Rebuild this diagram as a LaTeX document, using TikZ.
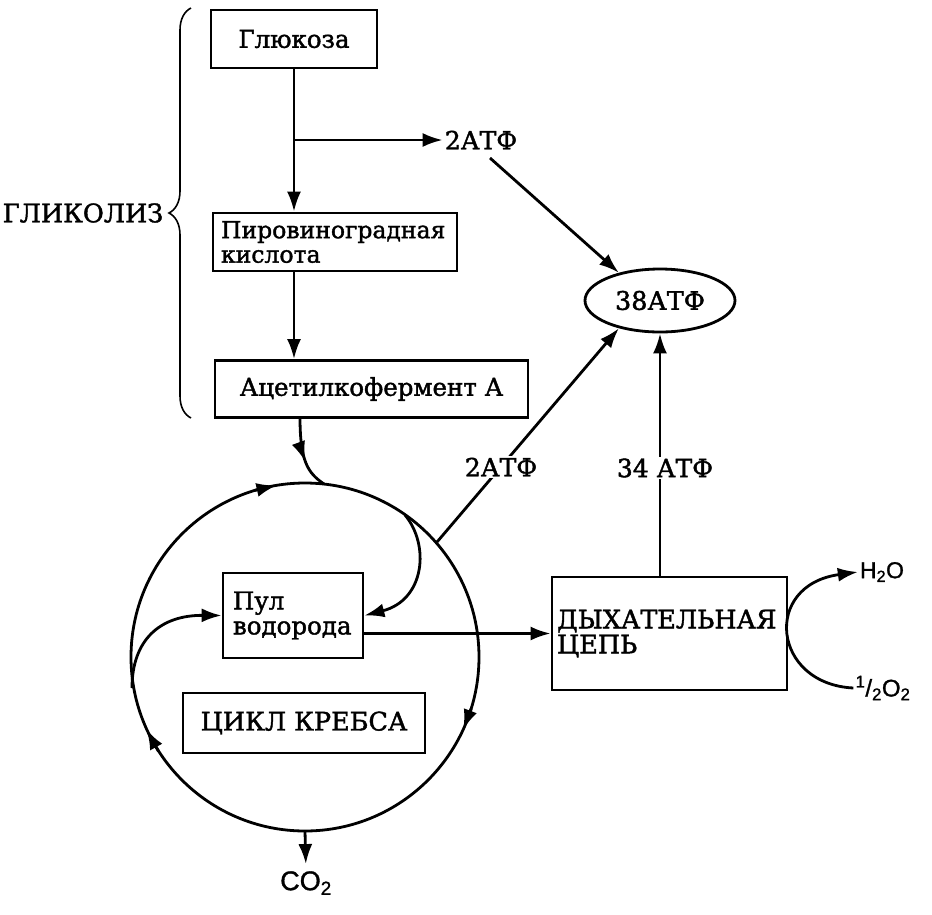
\documentclass[tikz,border=0pt]{standalone}
\usepackage{fontspec}
\setmainfont{DejaVu Serif}[FakeBold=1.6]
\newfontfamily\sansf{Liberation Sans}[FakeBold=1.2]
\usetikzlibrary{arrows.meta,decorations.pathreplacing,decorations.markings,shapes.geometric,calc}
\begin{document}
\begin{tikzpicture}[x=1pt,y=-1pt,
  lw/.style={line width=2.8pt},
  tip/.style={-{Latex[length=20pt,width=14pt]}},
  arr/.style={lw,tip},
  box/.style={draw,lw,rectangle,inner sep=0pt,font=\fontsize{24.5}{22}\selectfont},
  capbox/.style={box,font=\fontsize{25.5}{25}\selectfont},
  lbl/.style={font=\fontsize{25}{25}\selectfont,inner sep=2pt},
  midarr/.style={postaction={decorate},decoration={markings,mark=at position #1 with {\arrow{Latex[length=20pt,width=14pt]}}}},
]
\useasboundingbox (0,0) rectangle (932,914);

% boxes
\node[box,minimum width=166pt,minimum height=58pt] (gluc) at (294,39) {Глюкоза};
\node[box,minimum width=244pt,minimum height=58pt,inner xsep=8pt,text width=228pt,align=left,font=\fontsize{23.5}{24.5}\selectfont] (pyr) at (335,242) {Пировиноградная\\кислота};
\node[box,minimum width=313pt,minimum height=57pt] (acet) at (371.5,389) {Ацетилкофермент А};
\node[box,minimum width=140pt,minimum height=85pt,inner xsep=10pt,text width=120pt,align=left,font=\fontsize{24.5}{25}\selectfont] (pool) at (293,615.5) {Пул\\водорода};
\node[capbox,minimum width=242pt,minimum height=60pt] (krebs) at (304,723) {ЦИКЛ КРЕБСА};
\node[capbox,minimum width=235pt,minimum height=113pt,inner xsep=5pt,text width=225pt,align=left] (resp) at (669.5,633.5) {ДЫХАТЕЛЬНАЯ\\ЦЕПЬ};
\node[draw,lw,ellipse,inner sep=0pt,minimum width=150pt,minimum height=63pt,font=\fontsize{25.5}{25}\selectfont] (atp38) at (660,300.5) {38АТФ};

% labels
\node[lbl] (atf2a) at (481,140) {2АТФ};
\node[lbl,font=\fontsize{25.5}{26}\selectfont] (glyc) at (83,213) {ГЛИКОЛИЗ};
\node[inner sep=1pt,font=\sansf\fontsize{27}{28}\selectfont] (co2) at (306,883) {CO\textsubscript{2}};
\node[inner sep=2pt,font=\sansf\fontsize{23}{24}\selectfont] (h2o) at (882,572) {H\textsubscript{2}O};
\node[inner sep=2pt,font=\sansf\fontsize{24}{24}\selectfont] (o2) at (883,688) {\textsuperscript{1}/\textsubscript{2}O\textsubscript{2}};

% brace
\draw[line width=1.6pt,decorate,decoration={brace,amplitude=22pt}] (191,418) -- (191,8);

% glycolysis chain
\coordinate (br) at (gluc.south |- atf2a);
\draw[arr] (gluc.south) -- (gluc.south |- pyr.north);
\draw[arr] (br) -- (atf2a.west);
\draw[arr] (gluc.south |- pyr.south) -- (gluc.south |- acet.north);

% acetyl -> circle
\coordinate (a1) at (300,417);
\coordinate (kin) at (324,484);
\draw[lw,midarr=0.6] (a1) .. controls (300,462) and (308,473) .. (kin);

% Krebs circle
\coordinate (C) at (305,657);
\draw[lw] (C) circle[radius=174];
\draw[arr] (255,490.3) -- (276.5,485.4);
\draw[arr] (471.2,708.5) -- (463.2,729.5);
\draw[arr] (158.6,751.5) -- (146.5,729.5);

% inner curves to pool
\coordinate (kr) at (405,515);
\coordinate (kl) at (132,688);
\draw[arr] (kr) .. controls (430,545) and (425,600) .. (pool.east);
\draw[arr] (kl) .. controls (132,640) and (160,615) .. (pool.west);

% pool -> respiratory chain
\draw[arr] (pool.east |- resp.west) -- (resp.west);

% ATP arrows
\coordinate (t2) at (490,158);
\draw[arr] (t2) -- (atp38.146);
\coordinate (k2) at (437,542);
\draw[arr] (k2) -- (atp38.214);
\draw[arr] (resp.north -| atp38) -- (atp38.south);
\node[lbl,fill=white] (atf2b) at (501,467) {2АТФ};
\node[lbl,fill=white] (atf34) at (665,468) {34 АТФ};

% CO2
\coordinate (kb) at (305,831);
\draw[arr,shorten >=6pt] (kb) -- (co2.north);

% water / oxygen
\draw[arr] (o2.west) .. controls (772,684) and (762,585) .. (h2o.west);
\end{tikzpicture}
\end{document}
